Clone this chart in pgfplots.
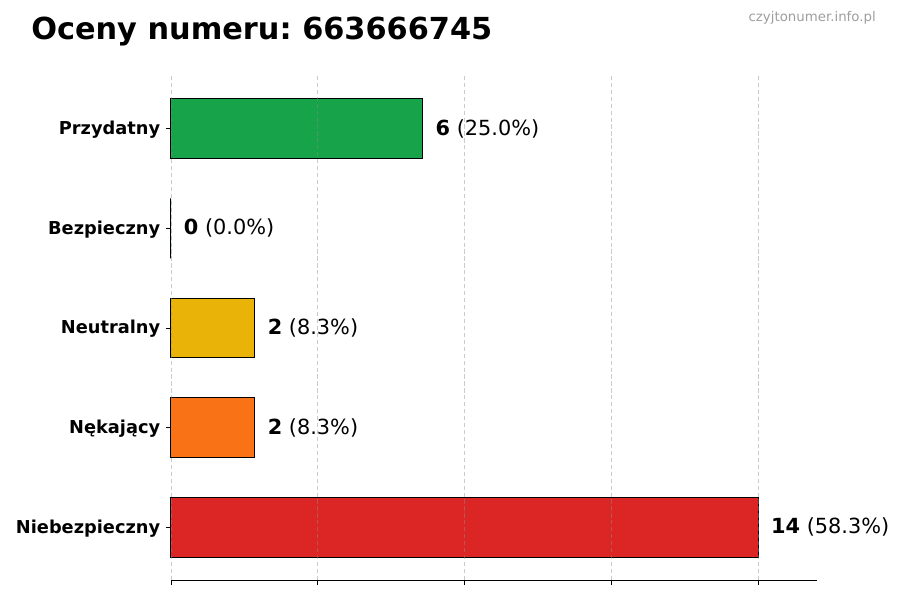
\documentclass[border=0pt]{standalone}
\usepackage{pgfplots}
\pgfplotsset{compat=1.18}
\usepackage{fontspec}
\setmainfont{DejaVu Sans}
\frenchspacing

\definecolor{cgreen}{HTML}{16A34A}
\definecolor{cyellow}{HTML}{EAB308}
\definecolor{corange}{HTML}{F97316}
\definecolor{cred}{HTML}{DC2626}

\begin{document}
\begin{tikzpicture}
\useasboundingbox (0,0) rectangle (648pt,432pt);
\node[anchor=base west, inner sep=0pt, font=\bfseries\fontsize{21.85}{26}\selectfont]
  at (22.3pt,403.5pt) {Oceny numeru: 663666745};
\node[anchor=base east, inner sep=0pt, text=black!38, font=\fontsize{9.6}{11}\selectfont]
  at (630.7pt,416.2pt) {czyjtonumer.info.pl};
\begin{axis}[
    at={(123.1pt,14.4pt)}, anchor=south west,
    scale only axis, width=465.1pt, height=362.9pt,
    clip=false,
    xbar, bar width=0.6, bar shift=0pt,
    xmin=0, xmax=15.4, ymin=-0.53, ymax=4.53,
    axis x line*=bottom, axis y line*=left,
    y axis line style={draw=none},
    x axis line style={-, line width=0.65pt},
    xtick={0,3.5,7,10.5,14}, xticklabels={},
    ytick={0,1,2,3,4},
    yticklabels={Niebezpieczny,Nękający,Neutralny,Bezpieczny,Przydatny},
    yticklabel style={font=\bfseries\fontsize{12.8}{15}\selectfont, anchor=east, inner sep=0pt, xshift=-4pt, yshift=-0.7pt},
    tick align=outside, major tick length=3.6pt,
    tick style={black, line width=0.6pt},
    xmajorgrids, grid style={densely dashed, black!45, opacity=0.45, line width=0.5pt},
    axis on top,
    point meta=explicit symbolic,
    nodes near coords,
    every node near coord/.append style={anchor=west, inner sep=0pt, xshift=9pt,
        font=\fontsize{15}{18}\selectfont, text=black},
    every axis plot/.append style={draw=black, line width=0.7pt},
]
\addplot[fill=cred] coordinates {(14,0) [\textbf{14} (58.3\%)]};
\addplot[fill=corange] coordinates {(2,1) [\textbf{2} (8.3\%)]};
\addplot[fill=cyellow] coordinates {(2,2) [\textbf{2} (8.3\%)]};
\addplot[fill=cgreen] coordinates {(0,3) [\textbf{0} (0.0\%)]};
\addplot[fill=cgreen] coordinates {(6,4) [\textbf{6} (25.0\%)]};
\end{axis}
\end{tikzpicture}
\end{document}
